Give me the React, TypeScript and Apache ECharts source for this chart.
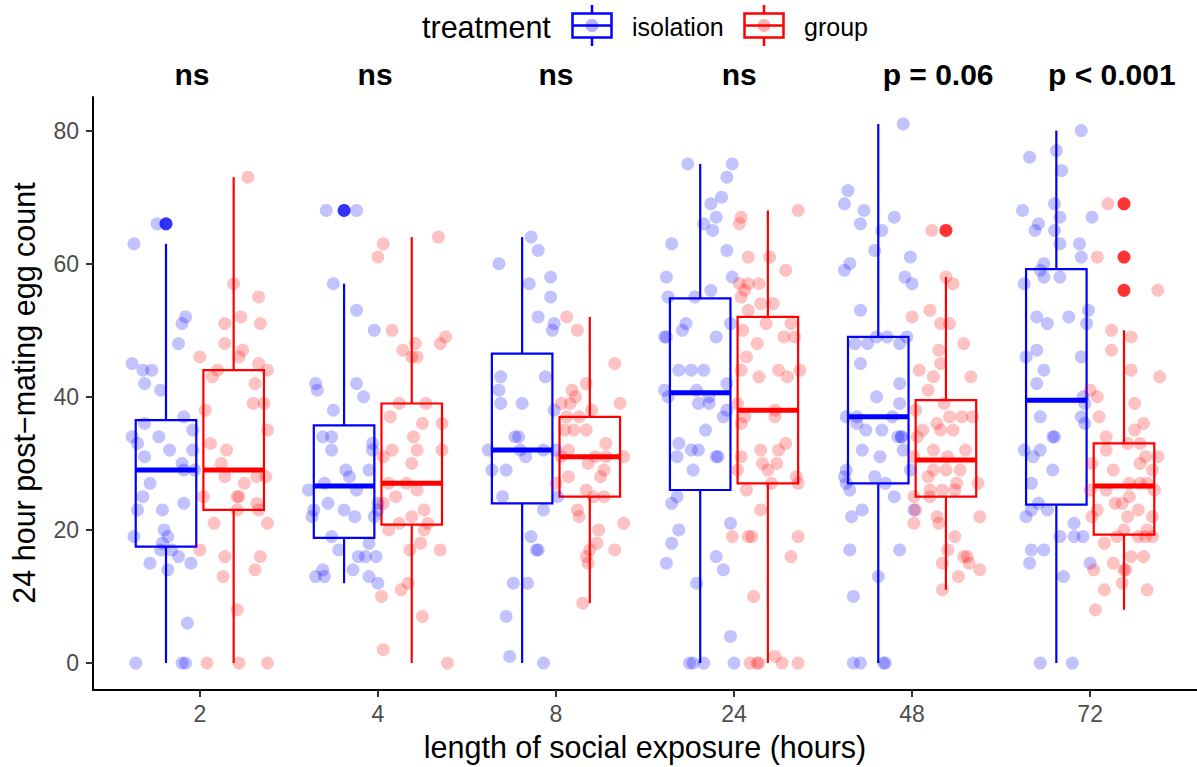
import React, { useEffect, useRef } from "react";
import * as echarts from "echarts";

// ---------- data ----------
const categories = ["2", "4", "8", "24", "48", "72"];
const annotations = ["ns", "ns", "ns", "ns", "p = 0.06", "p < 0.001"];
const yTicks = [0, 20, 40, 60, 80];

// box stats: [lower whisker, q1, median, q3, upper whisker]
const isolationBoxes = [
  [0, 17.5, 29, 36.5, 63],
  [12, 18.8, 26.6, 35.7, 57],
  [0, 24, 32, 46.5, 64],
  [0, 26, 40.6, 54.8, 75],
  [0, 27, 37, 49, 81],
  [0, 23.8, 39.5, 59.2, 80],
];
const groupBoxes = [
  [0, 23, 29, 44, 73],
  [0, 20.8, 27, 39, 64],
  [9, 25, 31, 37, 52],
  [0, 27, 38, 52, 68],
  [11, 25, 30.5, 39.5, 58],
  [8, 19.3, 26.6, 33, 50],
];
// outliers: [category index, value]
const isolationOutliers = [[0, 66], [1, 68]];
const groupOutliers = [[4, 65], [5, 69], [5, 61], [5, 56]];

// jittered points: [jitter offset (category units), egg count]
const iso2 = [[-0.05,66],[-0.18,63],[0.11,52],[0.09,51],[0.07,48],[-0.19,45],[-0.13,44],[-0.08,44],[-0.12,42],[-0.03,41],[0.1,37],[-0.12,36],[0.15,35],[-0.19,34],[-0.16,33],[-0.04,34],[0.02,32],[0.15,32],[-0.12,31],[0.09,30],[0.1,29],[0.16,29],[-0.09,27],[-0.13,25],[-0.16,23],[-0.02,23],[0.1,24],[-0.18,19],[-0.01,20],[0.01,19],[-0.02,18],[-0.03,17],[0.03,17],[0.07,16],[-0.09,15],[0.01,14],[0.14,15],[0.12,6],[-0.17,0],[0.09,0],[0.11,0]];
const grp2 = [[0.08,73],[0,57],[0.14,55],[-0.05,51],[0.04,52],[0.15,51],[-0.05,48],[0.05,47],[0.03,46],[-0.19,46],[0.14,45],[-0.09,44],[0.19,44],[-0.12,43],[0.12,42],[0.11,39],[0.17,39],[-0.16,38],[0.19,35],[-0.13,33],[-0.04,32],[-0.07,30],[-0.05,28],[0.06,27],[0.13,28],[0.18,28],[-0.17,25],[0.02,25],[0.03,25],[0.13,24],[0.14,23],[0.02,23],[-0.11,21],[0.19,21],[-0.19,17],[-0.05,16],[0.15,16],[-0.06,13],[0.12,14],[0.02,8],[-0.15,0],[0.03,0],[0.19,0]];
const iso4 = [[-0.1,68],[0.07,68],[-0.06,57],[0.07,53],[0.17,50],[-0.16,42],[-0.15,41],[0.07,42],[0.11,40],[-0.06,38],[-0.12,34],[-0.07,34],[-0.07,32],[0.16,33],[0.16,32],[0.01,29],[0.03,28],[0.14,29],[-0.11,27],[-0.2,26],[0.07,26],[-0.09,24],[-0.17,23],[-0.18,22],[0,23],[0.06,22],[0.19,24],[0.19,23],[0.17,22],[-0.07,19],[0.14,18],[-0.03,17],[0.08,16],[0.12,16],[0.18,16],[-0.12,14],[-0.16,13],[-0.11,13],[0.05,14],[0.14,13],[0.19,12]];
const grp4 = [[0.15,64],[-0.16,63],[-0.19,61],[-0.11,50],[0.19,49],[0.16,48],[-0.05,47],[0.02,48],[0,46],[0.03,46],[-0.07,39],[0.08,39],[-0.12,37],[0.06,36],[0.17,36],[0.01,34],[-0.11,32],[0.03,32],[0.17,32],[-0.16,31],[0,30],[-0.13,27],[-0.03,27],[0.03,26],[-0.09,25],[-0.16,24],[0.07,23],[0,22],[-0.13,20],[-0.07,21],[0.09,21],[0.07,20],[0.05,18],[-0.01,17],[0.16,17],[-0.02,12],[-0.06,11],[-0.17,10],[0.06,7],[-0.16,2],[0.2,0]];
const iso8 = [[0.05,64],[0.09,62],[-0.13,60],[0.04,57],[0.16,58],[0.16,55],[0.09,52],[0.18,51],[0.17,50],[-0.12,43],[0.13,43],[-0.13,41],[-0.12,39],[0,39],[0.18,38],[-0.04,34],[-0.02,34],[-0.19,32],[-0.01,32],[0.12,32],[0.19,32],[0.02,31],[-0.17,29],[-0.09,29],[-0.11,25],[0.2,25],[0.12,23],[0.05,19],[0.08,17],[0.09,17],[-0.05,12],[0.03,12],[-0.09,7],[-0.07,1],[0.12,0]];
const grp8 = [[-0.13,52],[-0.07,50],[0.14,45],[-0.02,42],[-0.1,41],[-0.08,40],[-0.16,39],[-0.11,39],[0.17,39],[0.01,38],[-0.13,37],[-0.06,37],[-0.14,35],[-0.09,35],[-0.02,35],[0.09,33],[-0.12,32],[-0.16,31],[0.03,31],[0.09,31],[0.19,31],[-0.01,30],[0.08,29],[-0.12,28],[0.06,28],[-0.19,27],[-0.02,26],[0.02,25],[0.08,25],[-0.07,23],[-0.06,22],[0.19,21],[0.05,20],[0.04,18],[0.14,17],[0,17],[-0.02,16],[-0.01,15],[-0.04,9]];
const iso24 = [[-0.07,75],[0.18,75],[0.15,73],[0.12,70],[0.06,69],[0.09,67],[0.02,66],[0.07,65],[-0.16,63],[0.15,62],[-0.19,58],[0.18,58],[0.06,56],[-0.18,55],[-0.03,55],[-0.08,51],[-0.1,50],[0.17,51],[-0.2,49],[-0.19,49],[0.09,49],[-0.12,44],[-0.05,44],[0.02,44],[0.15,42],[-0.2,41],[-0.18,40],[-0.02,41],[-0.01,39],[0.05,39],[0.05,40],[0.15,38],[0.13,37],[0.03,35],[-0.12,33],[-0.13,31],[-0.05,32],[-0.01,32],[0.09,31],[0.1,31],[-0.04,29],[-0.13,25],[-0.16,24],[-0.12,20],[0.17,21],[-0.16,18],[-0.19,15],[0.09,16],[0.13,14],[-0.02,12],[0.17,4],[-0.06,0],[-0.04,0],[0.02,0],[0.19,0]];
const grp24 = [[0.17,68],[-0.15,67],[-0.16,66],[-0.11,61],[0.01,61],[0.1,59],[-0.16,57],[-0.11,57],[-0.05,57],[-0.13,56],[-0.15,55],[-0.04,54],[0.03,54],[-0.11,53],[-0.01,51],[0.13,51],[-0.14,50],[0.09,49],[0.15,49],[-0.06,48],[-0.12,46],[-0.15,44],[0.06,44],[0.18,44],[-0.05,43],[0.11,43],[-0.17,39],[-0.13,37],[0.04,38],[0.04,37],[-0.15,36],[0.1,33],[-0.04,32],[0.06,32],[-0.15,31],[-0.03,30],[0.05,30],[0,29],[-0.17,29],[0.16,28],[0.17,27],[0.02,27],[-0.12,26],[-0.04,23],[-0.2,19],[-0.11,19],[-0.09,19],[0.17,19],[0.13,16],[-0.08,10],[0.04,1],[-0.1,0],[-0.06,0],[-0.05,0],[0.08,0],[0.17,0]];
const iso48 = [[0.14,81],[-0.17,71],[-0.19,69],[-0.08,68],[-0.1,66],[0.09,67],[0.02,65],[-0.02,62],[-0.16,60],[-0.19,59],[0.18,61],[0.15,58],[0.19,57],[-0.1,53],[-0.01,49],[0.05,49],[0.16,49],[-0.13,48],[-0.06,48],[0.12,48],[-0.1,45],[0.12,42],[-0.01,40],[0.12,39],[-0.18,37],[-0.12,37],[0.08,37],[-0.12,36],[-0.07,35],[0.02,35],[0.11,34],[0.13,34],[0.13,34],[-0.09,32],[0.14,32],[0.01,31],[-0.18,29],[0.18,29],[-0.19,28],[-0.18,27],[-0.02,28],[0.04,27],[-0.16,26],[0.09,25],[-0.09,23],[-0.15,22],[0.2,23],[-0.16,17],[0.12,17],[0,13],[-0.14,10],[-0.14,0],[-0.1,0],[0.03,0],[0.04,0]];
const grp48 = [[-0.08,65],[0,58],[0.04,57],[-0.09,53],[-0.19,52],[-0.03,51],[0.02,51],[0.1,48],[-0.04,47],[-0.03,45],[-0.15,44],[-0.07,43],[0.14,43],[-0.1,41],[-0.01,39],[-0.17,38],[0.02,37],[0.09,37],[0.15,37],[-0.05,36],[-0.13,35],[-0.03,35],[0.04,35],[-0.16,34],[-0.07,32],[0.11,32],[-0.18,31],[0.01,31],[-0.07,29],[0,29],[0.08,29],[-0.1,28],[0.06,27],[0.18,27],[-0.09,26],[-0.02,26],[0.05,26],[-0.18,25],[-0.09,25],[-0.17,23],[-0.05,22],[0.19,22],[-0.18,21],[-0.04,21],[0.05,19],[0.01,17],[0.1,16],[0.12,16],[0.13,15],[-0.02,15],[0.19,14],[0.07,13],[-0.02,11]];
const iso72 = [[0.14,80],[-0.15,76],[0,77],[0.03,74],[-0.19,68],[-0.01,69],[0.02,67],[0.2,67],[-0.1,66],[-0.12,65],[-0.01,65],[0.02,63],[0.13,63],[0.14,61],[-0.07,60],[-0.09,59],[-0.07,58],[0.02,58],[-0.18,57],[0.18,53],[-0.11,52],[-0.05,51],[0.07,52],[0.17,51],[-0.11,47],[-0.17,46],[0.14,46],[-0.07,44],[-0.11,42],[0.15,40],[0.16,39],[-0.09,37],[0.14,37],[0.16,36],[-0.01,34],[-0.02,34],[-0.18,32],[-0.09,32],[-0.13,31],[-0.02,29],[-0.14,27],[-0.1,24],[-0.05,23],[-0.14,23],[-0.17,22],[0.1,21],[0.02,19],[0.1,19],[0.15,19],[-0.14,17],[-0.07,17],[-0.15,15],[0.19,15],[0.04,13],[-0.09,0],[0.09,0]];
const grp72 = [[-0.09,69],[-0.15,61],[0.19,56],[-0.07,50],[0.04,49],[-0.07,47],[0.04,44],[0.2,43],[-0.19,41],[-0.15,40],[0.06,39],[-0.14,37],[0.11,36],[0.06,35],[-0.1,34],[0.09,33],[0.02,33],[-0.1,32],[0.12,31],[0.19,31],[0.09,30],[-0.18,30],[-0.06,29],[0.16,29],[0.03,27],[0.09,27],[0.13,27],[0.17,26],[-0.19,26],[-0.1,26],[0.03,25],[-0.05,24],[-0.01,24],[0.02,22],[0.08,23],[-0.15,23],[-0.18,22],[0.16,22],[0,20],[0.13,20],[-0.04,19],[0.08,19],[0.12,19],[0.16,19],[-0.11,18],[0.04,16],[0.11,16],[-0.06,15],[-0.17,14],[0,14],[0.01,14],[-0.01,12],[-0.11,11],[0.13,11],[-0.16,8]];

const isolationPoints = [iso2, iso4, iso8, iso24, iso48, iso72];
const groupPoints = [grp2, grp4, grp8, grp24, grp48, grp72];

// ---------- styling / layout ----------
const BLUE = "#0000FF";
const RED = "#FF0000";
const FONT = '"Liberation Sans", Arial, Helvetica, sans-serif';
const DODGE = 0.19;
const BOX_W = 0.34;
const X_MIN = -0.6;
const X_MAX = 5.6;
const GRID_LEFT = 93;
const GRID_TOP = 97;
const GRID_BOTTOM = 77;
const W = 1197;
const H = 767;
const annOffsets = [-0.044, -0.016, 0, 0.029, 0.146, 0.122];

function makeBoxRender(color: string) {
  return (params: any, api: any) => {
    const x = api.value(0);
    const lo = api.coord([x, api.value(1)]);
    const q1 = api.coord([x, api.value(2)]);
    const med = api.coord([x, api.value(3)]);
    const q3 = api.coord([x, api.value(4)]);
    const hi = api.coord([x, api.value(5)]);
    const w = api.size([BOX_W, 0])[0];
    const cx = med[0];
    return {
      type: "group",
      children: [
        { type: "line", shape: { x1: cx, y1: hi[1], x2: cx, y2: q3[1] }, style: { stroke: color, lineWidth: 2.2 } },
        { type: "line", shape: { x1: cx, y1: q1[1], x2: cx, y2: lo[1] }, style: { stroke: color, lineWidth: 2.2 } },
        {
          type: "rect",
          shape: { x: cx - w / 2, y: q3[1], width: w, height: q1[1] - q3[1] },
          style: { fill: "#ffffff", stroke: color, lineWidth: 2.2 },
        },
        {
          type: "line",
          shape: { x1: cx - w / 2, y1: med[1], x2: cx + w / 2, y2: med[1] },
          style: { stroke: color, lineWidth: 5 },
        },
      ],
    };
  };
}

function legendKey(cx: number, color: string, fillAlpha: string) {
  return [
    { type: "line", shape: { x1: cx, y1: 5, x2: cx, y2: 13.5 }, style: { stroke: color, lineWidth: 2.5 } },
    { type: "line", shape: { x1: cx, y1: 37.5, x2: cx, y2: 46 }, style: { stroke: color, lineWidth: 2.5 } },
    {
      type: "rect",
      shape: { x: cx - 19.5, y: 13.5, width: 39, height: 24 },
      style: { fill: "#ffffff", stroke: color, lineWidth: 2.5 },
    },
    { type: "circle", shape: { cx, cy: 25.5, r: 6.5 }, style: { fill: fillAlpha } },
    { type: "line", shape: { x1: cx - 19.5, y1: 25.5, x2: cx + 19.5, y2: 25.5 }, style: { stroke: color, lineWidth: 2.5 } },
  ];
}

export default function App() {
  const ref = useRef<HTMLDivElement>(null);

  useEffect(() => {
    if (!ref.current) return;
    const chart = echarts.init(ref.current, null, { renderer: "svg" });

    const pxPerUnit = (W - GRID_LEFT) / (X_MAX - X_MIN);
    const xToPx = (v: number) => GRID_LEFT + (v - X_MIN) * pxPerUnit;

    const isoBoxData = isolationBoxes.map((b, i) => [i - DODGE, ...b]);
    const grpBoxData = groupBoxes.map((b, i) => [i + DODGE, ...b]);
    const isoOutData = isolationOutliers.map(([c, v]) => [c - DODGE, v]);
    const grpOutData = groupOutliers.map(([c, v]) => [c + DODGE, v]);
    const isoPts: number[][] = [];
    isolationPoints.forEach((arr, i) => arr.forEach(([j, v]) => isoPts.push([i - DODGE + j, v])));
    const grpPts: number[][] = [];
    groupPoints.forEach((arr, i) => arr.forEach(([j, v]) => grpPts.push([i + DODGE + j, v])));

    const annTexts = annotations.map((t, i) => ({
      type: "text",
      x: xToPx(i + annOffsets[i]),
      y: 74,
      style: {
        text: t,
        fontSize: 30,
        fontWeight: "bold",
        fontFamily: FONT,
        fill: "#000000",
        align: "center",
        verticalAlign: "middle",
      },
    }));

    const option: any = {
      animation: false,
      backgroundColor: "#ffffff",
      grid: { left: GRID_LEFT, right: 0, top: GRID_TOP, bottom: GRID_BOTTOM, containLabel: false },
      xAxis: {
        type: "value",
        min: X_MIN,
        max: X_MAX,
        splitLine: { show: false },
        axisLine: { show: true, onZero: false, lineStyle: { color: "#000000", width: 2 } },
        axisTick: {
          show: true,
          inside: false,
          length: 7,
          customValues: categories.map((_, i) => i),
          lineStyle: { color: "#333333", width: 2 },
        },
        axisLabel: {
          show: true,
          customValues: categories.map((_, i) => i),
          formatter: (v: number) => categories[Math.round(v)] ?? "",
          color: "#4D4D4D",
          fontSize: 23,
          fontFamily: FONT,
          margin: 12,
        },
      },
      yAxis: {
        type: "value",
        min: -4.05,
        max: 85.05,
        splitLine: { show: false },
        axisLine: { show: true, onZero: false, lineStyle: { color: "#000000", width: 2 } },
        axisTick: {
          show: true,
          inside: false,
          length: 7,
          customValues: yTicks,
          lineStyle: { color: "#333333", width: 2 },
        },
        axisLabel: {
          show: true,
          customValues: yTicks,
          color: "#4D4D4D",
          fontSize: 23,
          fontFamily: FONT,
          margin: 14,
        },
      },
      series: [
        {
          type: "custom",
          name: "isolation",
          renderItem: makeBoxRender(BLUE),
          data: isoBoxData,
          encode: { x: 0, y: [1, 2, 3, 4, 5] },
          z: 2,
          clip: false,
        },
        {
          type: "custom",
          name: "group",
          renderItem: makeBoxRender(RED),
          data: grpBoxData,
          encode: { x: 0, y: [1, 2, 3, 4, 5] },
          z: 2,
          clip: false,
        },
        {
          type: "scatter",
          data: isoOutData,
          symbolSize: 13,
          itemStyle: { color: BLUE, borderWidth: 0 },
          z: 3,
        },
        {
          type: "scatter",
          data: grpOutData,
          symbolSize: 13,
          itemStyle: { color: RED, borderWidth: 0 },
          z: 3,
        },
        {
          type: "scatter",
          data: isoPts,
          symbolSize: 13,
          itemStyle: { color: "rgba(0,0,255,0.3)", borderWidth: 0 },
          z: 4,
        },
        {
          type: "scatter",
          data: grpPts,
          symbolSize: 13,
          itemStyle: { color: "rgba(255,0,0,0.3)", borderWidth: 0 },
          z: 4,
        },
      ],
      graphic: [
        {
          type: "text",
          x: 422,
          y: 26.5,
          style: { text: "treatment", fontSize: 30.5, fontFamily: FONT, fill: "#000000", align: "left", verticalAlign: "middle" },
        },
        ...legendKey(592, BLUE, "rgba(0,0,255,0.3)"),
        {
          type: "text",
          x: 632,
          y: 27,
          style: { text: "isolation", fontSize: 25, fontFamily: FONT, fill: "#000000", align: "left", verticalAlign: "middle" },
        },
        ...legendKey(764, RED, "rgba(255,0,0,0.3)"),
        {
          type: "text",
          x: 804,
          y: 27,
          style: { text: "group", fontSize: 25, fontFamily: FONT, fill: "#000000", align: "left", verticalAlign: "middle" },
        },
        ...annTexts,
        {
          type: "text",
          x: xToPx((X_MIN + X_MAX) / 2),
          y: 747,
          style: {
            text: "length of social exposure (hours)",
            fontSize: 30.5,
            fontFamily: FONT,
            fill: "#000000",
            align: "center",
            verticalAlign: "middle",
          },
        },
        {
          type: "text",
          x: 24,
          y: 393,
          rotation: Math.PI / 2,
          style: {
            text: "24 hour post\u2212mating egg count",
            fontSize: 30.5,
            fontFamily: FONT,
            fill: "#000000",
            align: "center",
            verticalAlign: "middle",
          },
        },
      ],
    };

    chart.setOption(option);
    return () => chart.dispose();
  }, []);

  return (
    <div
      ref={ref}
      style={{ position: "fixed", left: 0, top: 0, width: W, height: H, background: "#ffffff" }}
    />
  );
}
